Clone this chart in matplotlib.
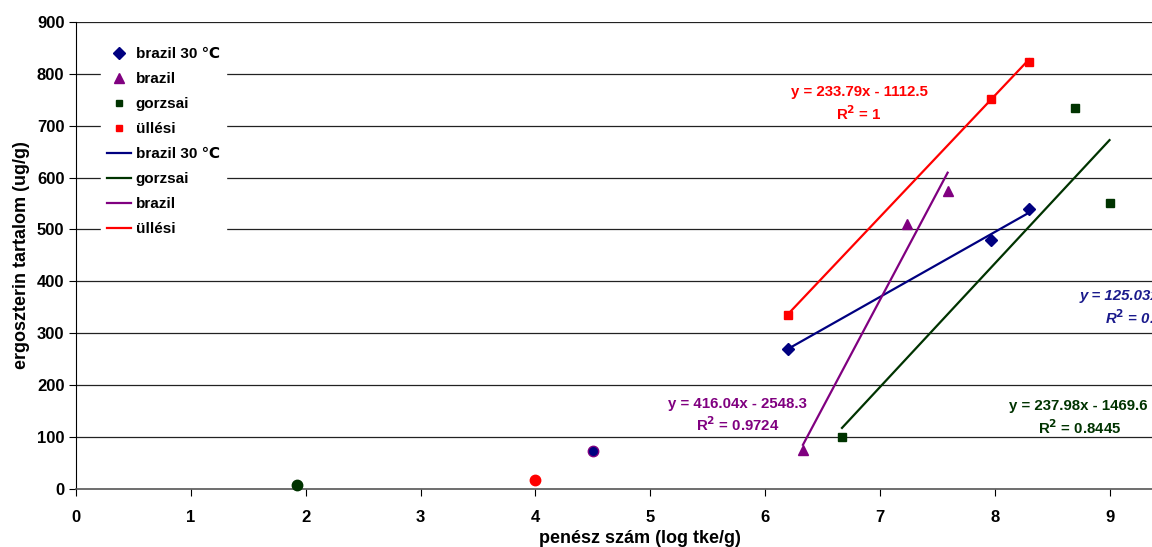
import matplotlib
matplotlib.use("Agg")
import matplotlib.pyplot as plt
from matplotlib.lines import Line2D
import numpy as np

plt.rcParams['font.family'] = ['Liberation Sans', 'DejaVu Sans']
plt.rcParams['font.weight'] = 'bold'

# Measured points per sample series
brazil30_x = [6.2, 7.97, 8.3]
brazil30_y = [270, 480, 540]
brazil_x = [6.33, 7.24, 7.59]
brazil_y = [75, 510, 575]
gorzsai_x = [6.67, 8.7, 9.0]
gorzsai_y = [100, 735, 552]
ullesi_x = [6.2, 7.97, 8.3]
ullesi_y = [335, 752, 822]

# Low-count single measurements (circles)
single_x = [1.92, 4.0, 4.5]
single_y = [8, 17, 73]

# Linear trendlines: slope, intercept, R^2 text
brazil30_fit = (125.03, -505.2, "0.9994")
brazil_fit = (416.04, -2548.3, "0.9724")
gorzsai_fit = (237.98, -1469.6, "0.8445")
ullesi_fit = (233.79, -1112.5, "1")

navy = "#000080"
purple = "#800080"
dgreen = "#003300"
red = "#FF0000"

fig = plt.figure(figsize=(11.52, 5.47), dpi=100)
ax = fig.add_axes([76.2 / 1152, 0.106, 1 - 76.2 / 1152, 0.854])

ax.set_xlim(0, 9.37)
ax.set_ylim(0, 900)
ax.set_xticks(range(10))
ax.set_yticks(range(0, 901, 100))
for y in range(100, 901, 100):
    ax.axhline(y, color="#222222", lw=0.9, zorder=1)

for s in ["top", "right"]:
    ax.spines[s].set_visible(False)
ax.spines["left"].set_color("black")
ax.spines["bottom"].set_color("#555555")
ax.spines["bottom"].set_linewidth(1.2)
ax.tick_params(axis="both", direction="out", length=5, width=0.8, labelsize=12)
ax.tick_params(axis="x", pad=10)
for lab in ax.get_xticklabels() + ax.get_yticklabels():
    lab.set_fontweight("bold")


def trend(xs, fit):
    xx = np.array([min(xs), max(xs)])
    return xx, fit[0] * xx + fit[1]


# Trendlines
lx, ly = trend(brazil30_x, brazil30_fit)
ax.plot(lx, ly, color=navy, lw=1.6, zorder=3)
lx, ly = trend(gorzsai_x, gorzsai_fit)
ax.plot(lx, ly, color=dgreen, lw=1.6, zorder=3)
lx, ly = trend(brazil_x, brazil_fit)
ax.plot(lx, ly, color=purple, lw=1.6, zorder=3)
lx, ly = trend(ullesi_x, ullesi_fit)
ax.plot(lx, ly, color=red, lw=1.6, zorder=3)

# Data markers
ax.plot(brazil30_x, brazil30_y, "D", color=navy, ms=6, ls="none", zorder=4)
ax.plot(brazil_x, brazil_y, "^", color=purple, ms=7.5, ls="none", zorder=4)
ax.plot(gorzsai_x, gorzsai_y, "s", color=dgreen, ms=5.5, ls="none", zorder=4)
ax.plot(ullesi_x, ullesi_y, "s", color=red, ms=5.5, ls="none", zorder=4)
single_face = [dgreen, red, navy]
single_edge = [dgreen, red, purple]
for x, y, fc, ec in zip(single_x, single_y, single_face, single_edge):
    ax.plot(x, y, "o", mfc=fc, mec=ec, ms=7.5, zorder=4, clip_on=False)


def eq_text(fit):
    b = fit[1]
    sign = "-" if b < 0 else "+"
    return f"y = {fit[0]:.2f}x {sign} {abs(b):.1f}", f"R$^2$ = {fit[2]}"


FS = 10.8


def label(x, y, s, color, ha="center", style="normal"):
    ax.text(x, y, s, color=color, ha=ha, va="center", fontsize=FS,
            fontweight="bold", style=style, zorder=5)


label(6.82, 765, eq_text(ullesi_fit)[0], red)
label(6.82, 723, eq_text(ullesi_fit)[1], red)
label(5.76, 164, eq_text(brazil_fit)[0], purple)
label(5.76, 124, eq_text(brazil_fit)[1], purple)
label(9.33, 160, eq_text(gorzsai_fit)[0], dgreen, ha="right")
label(8.74, 119, eq_text(gorzsai_fit)[1], dgreen)
label(8.74, 372, eq_text(brazil30_fit)[0], "#1a1a8c", ha="left", style="italic")
label(8.96, 331, eq_text(brazil30_fit)[1], "#1a1a8c", ha="left", style="italic")

ax.set_xlabel("penész szám (log tke/g)", fontsize=13, fontweight="bold")
ax.xaxis.set_label_coords(0.524, -0.088)
ax.set_ylabel("ergoszterin tartalom (ug/g)", fontsize=13, fontweight="bold", labelpad=5)

handles = [
    Line2D([], [], marker="D", color=navy, ls="none", ms=6),
    Line2D([], [], marker="^", color=purple, ls="none", ms=7),
    Line2D([], [], marker="s", color=dgreen, ls="none", ms=5),
    Line2D([], [], marker="s", color=red, ls="none", ms=5),
    Line2D([], [], color=navy, lw=1.6),
    Line2D([], [], color=dgreen, lw=1.6),
    Line2D([], [], color=purple, lw=1.6),
    Line2D([], [], color=red, lw=1.6),
]
labels = ["brazil 30 ℃", "brazil", "gorzsai", "üllési",
          "brazil 30 ℃", "gorzsai", "brazil", "üllési"]
leg = ax.legend(handles, labels, loc="upper left", bbox_to_anchor=(0.0155, 0.975),
                frameon=True, fancybox=False, edgecolor="white", facecolor="white",
                framealpha=1, handlelength=1.6, handletextpad=0.3, labelspacing=0.72,
                borderpad=0.4, prop={"weight": "bold", "size": 11})
leg.set_zorder(6)

fig.savefig("out.png", dpi=100)
